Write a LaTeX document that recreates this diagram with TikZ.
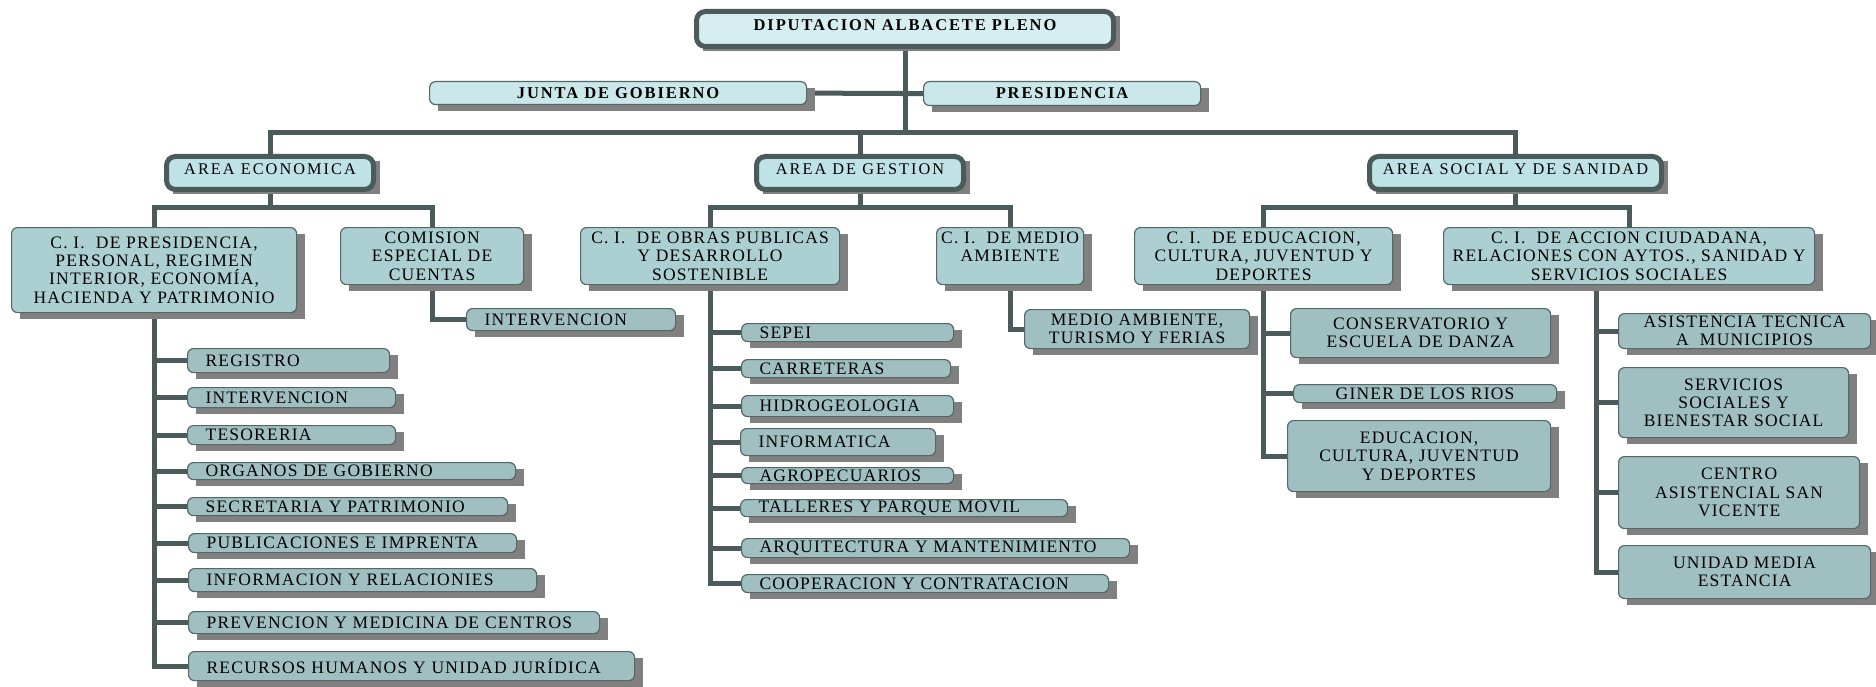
\documentclass[tikz,border=0pt]{standalone}
\usepackage{fontspec}
\setmainfont{Liberation Serif}
\newfontfamily\fleaf{Liberation Serif}[LetterSpace=7]
\newfontfamily\farea{Liberation Serif}[LetterSpace=12.5]
\newfontfamily\ftop{Liberation Serif}[LetterSpace=11.5]
\usetikzlibrary{backgrounds}
\definecolor{linec}{HTML}{4B5A5B}
\definecolor{shadowc}{HTML}{808080}
\definecolor{topc}{HTML}{D7EEF1}
\definecolor{presc}{HTML}{CAE7EA}
\definecolor{areac}{HTML}{BFE2E6}
\definecolor{cic}{HTML}{ACCFD2}
\definecolor{leafc}{HTML}{A0BFC1}
\definecolor{borderc}{HTML}{56676A}
\tikzset{
 conn/.style={draw=linec, line width=5pt},
 thickbox/.style={draw=linec, line width=5pt, rounded corners=9pt, inner sep=0pt, align=center, text depth=7pt},
 topbox/.style={thickbox, fill=topc, font=\ftop\bfseries\fontsize{16.5}{18}\selectfont},
 areabox/.style={thickbox, fill=areac, font=\farea\fontsize{16.3}{18}\selectfont},
 thinbox/.style={draw=borderc, line width=1.2pt, rounded corners=6pt, inner sep=0pt, align=center},
 presbox/.style={thinbox, fill=presc, font=\ftop\bfseries\fontsize{16.5}{18}\selectfont},
 cibox/.style={thinbox, fill=cic, font=\fleaf\fontsize{17.5}{18.3}\selectfont},
 leafbox/.style={thinbox, fill=leafc, font=\fleaf\fontsize{17.5}{18.3}\selectfont},
 leafL/.style={leafbox, text width=\tw pt, align=left, inner xsep=18pt},
}
\newcommand\shbox[7]{%
  \pgfmathsetmacro\bw{#5-#3}%
  \pgfmathsetmacro\bh{#6-#4}%
  \pgfmathsetmacro\tw{#5-#3-36}%
  \fill[shadowc] ({#3+9},{#4+7}) rectangle ({#5+9},{#6+7});
  \node[#2, anchor=north west, minimum width=\bw pt, minimum height=\bh pt] (#1) at (#3,#4) {#7};
}
\begin{document}
\begin{tikzpicture}[x=1pt,y=-1pt]
\useasboundingbox (0,0) rectangle (1876,687);
% top level
\shbox{dip}{topbox}{694}{9}{1111}{44}{DIPUTACION ALBACETE PLENO}
\shbox{junta}{presbox}{429}{81}{806}{104}{JUNTA DE GOBIERNO}
\shbox{pres}{presbox}{923}{81}{1200}{105}{PRESIDENCIA}
% areas
\shbox{ae}{areabox}{164}{154}{371}{187}{AREA ECONOMICA}
\shbox{ag}{areabox}{754}{154}{961}{187}{AREA DE GESTION}
\shbox{as}{areabox}{1367}{154}{1659}{187}{AREA SOCIAL Y DE SANIDAD}
% comisiones
\shbox{cip}{cibox}{11}{227}{296}{312}{C. I.~ DE PRESIDENCIA,\\PERSONAL, REGIMEN\\INTERIOR, ECONOMÍA,\\HACIENDA Y PATRIMONIO}
\shbox{com}{cibox}{340}{227}{523}{284}{COMISION\\ESPECIAL DE\\CUENTAS}
\shbox{cio}{cibox}{580}{227}{839}{284}{C. I.~ DE OBRAS PUBLICAS\\Y DESARROLLO\\SOSTENIBLE}
\shbox{cim}{cibox}{936}{227}{1083}{284}{C. I.~ DE MEDIO\\AMBIENTE\\\mbox{}}
\shbox{cie}{cibox}{1134}{227}{1392}{284}{C. I.~ DE EDUCACION,\\CULTURA, JUVENTUD Y\\DEPORTES}
\shbox{cia}{cibox}{1443}{227}{1814}{284}{C. I.~ DE ACCION CIUDADANA,\\RELACIONES CON AYTOS., SANIDAD Y\\SERVICIOS SOCIALES}
% area economica leaves
\shbox{l1}{leafL}{187}{348}{389}{372}{REGISTRO}
\shbox{l2}{leafL}{187}{387}{395}{407}{INTERVENCION}
\shbox{l3}{leafL}{187}{425}{395}{444}{TESORERIA}
\shbox{l4}{leafL}{187}{462}{515}{479}{ORGANOS DE GOBIERNO}
\shbox{l5}{leafL}{187}{497}{507}{515}{SECRETARIA Y PATRIMONIO}
\shbox{l6}{leafL}{188}{533}{516}{552}{PUBLICACIONES E IMPRENTA}
\shbox{l7}{leafL}{188}{568}{536}{591}{INFORMACION Y RELACIONIES}
\shbox{l8}{leafL}{188}{611}{599}{633}{PREVENCION Y MEDICINA DE CENTROS}
\shbox{l9}{leafL}{188}{651}{634}{680}{RECURSOS HUMANOS Y UNIDAD JURÍDICA}
\shbox{i2}{leafL}{466}{308}{675}{330}{INTERVENCION}
% area de gestion leaves
\shbox{s1}{leafL}{741}{323}{953}{341}{SEPEI}
\shbox{s2}{leafL}{741}{359}{950}{377}{CARRETERAS}
\shbox{s3}{leafL}{741}{395}{953}{416}{HIDROGEOLOGIA}
\shbox{s4}{leafL}{740}{428}{935}{455}{INFORMATICA}
\shbox{s5}{leafL}{741}{467}{953}{483}{AGROPECUARIOS}
\shbox{s6}{leafL}{740}{499}{1067}{516}{TALLERES Y PARQUE MOVIL}
\shbox{s7}{leafL}{741}{538}{1129}{557}{ARQUITECTURA Y MANTENIMIENTO}
\shbox{s8}{leafL}{741}{574}{1108}{592}{COOPERACION Y CONTRATACION}
\shbox{m1}{leafbox}{1024}{309}{1249}{348}{MEDIO AMBIENTE,\\TURISMO Y FERIAS}
% area social leaves
\shbox{e1}{leafbox}{1290}{308}{1550}{357}{CONSERVATORIO Y\\ESCUELA DE DANZA}
\shbox{e2}{leafbox}{1293}{384}{1556}{402}{GINER DE LOS RIOS}
\shbox{e3}{leafbox}{1287}{420}{1550}{491}{EDUCACION,\\CULTURA, JUVENTUD\\Y DEPORTES}
\shbox{a1}{leafbox}{1618}{313}{1870}{348}{ASISTENCIA TECNICA\\A~ MUNICIPIOS}
\shbox{a2}{leafbox}{1618}{367}{1848}{437}{SERVICIOS\\SOCIALES Y\\BIENESTAR SOCIAL}
\shbox{a3}{leafbox}{1618}{456}{1859}{528}{CENTRO\\ASISTENCIAL SAN\\VICENTE}
\shbox{a4}{leafbox}{1618}{545}{1870}{598}{UNIDAD MEDIA\\ESTANCIA}
% connectors
\begin{pgfonlayer}{background}
\coordinate (hb) at (0,133);
\coordinate (h2) at (0,208);
\coordinate (va) at (1596,0);
\draw[conn] (dip.south) -- (dip.south |- hb);
\draw[conn] (junta.east) -- (pres.west);
\draw[conn] (ae.north) -- (ae.north |- hb) -- (as.north |- hb) -- (as.north);
\draw[conn] (ag.north) -- (ag.north |- hb);
\draw[conn] (ae.south) -- (ae.south |- h2);
\draw[conn] (cip.north) -- (cip.north |- h2) -- (com.north |- h2) -- (com.north);
\draw[conn] (ag.south) -- (ag.south |- h2);
\draw[conn] (cio.north) -- (cio.north |- h2) -- (cim.north |- h2) -- (cim.north);
\draw[conn] (as.south) -- (as.south |- h2);
\draw[conn] (cie.north) -- (cie.north |- h2) -- (cia.north |- h2) -- (cia.north);
\draw[conn] (cip.south) |- (l9.west);
\foreach \n in {l1,l2,l3,l4,l5,l6,l7,l8} \draw[conn] (cip.south |- \n.west) -- (\n.west);
\draw[conn] (com.south) |- (i2.west);
\draw[conn] (cio.south) |- (s8.west);
\foreach \n in {s1,s2,s3,s4,s5,s6,s7} \draw[conn] (cio.south |- \n.west) -- (\n.west);
\draw[conn] (cim.south) |- (m1.west);
\draw[conn] (cie.south) |- (e3.west);
\foreach \n in {e1,e2} \draw[conn] (cie.south |- \n.west) -- (\n.west);
\draw[conn] (cia.south -| va) |- (a4.west);
\foreach \n in {a1,a2,a3} \draw[conn] (va |- \n.west) -- (\n.west);
\end{pgfonlayer}
\end{tikzpicture}
\end{document}
